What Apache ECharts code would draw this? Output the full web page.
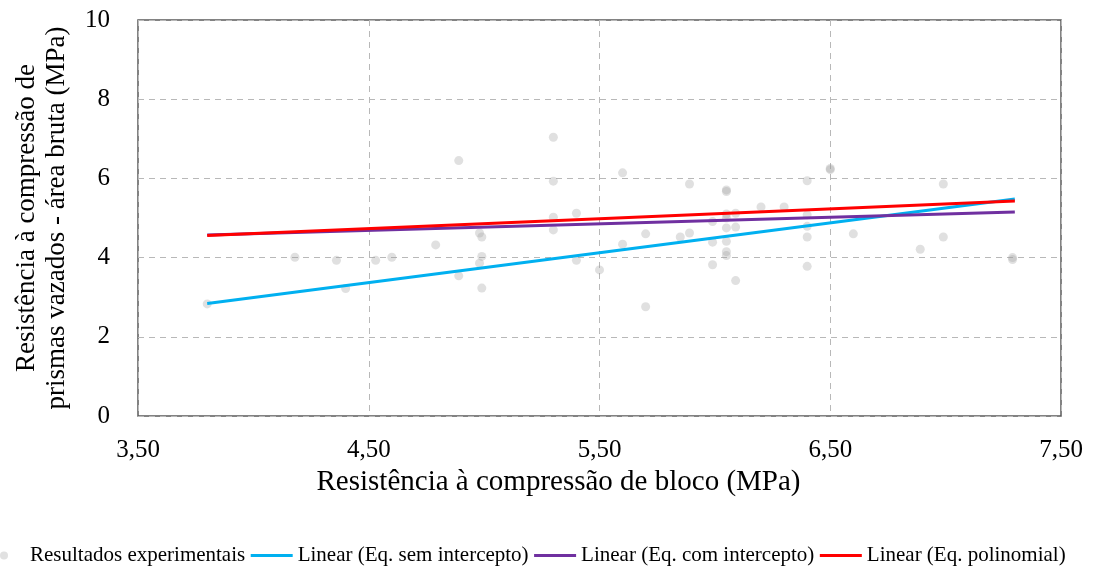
<!DOCTYPE html>
<html>
<head>
<meta charset="utf-8">
<script src="https://cdn.jsdelivr.net/npm/echarts@6/dist/echarts.min.js"></script>
<style>
  html, body { margin: 0; padding: 0; background: #fff; }
  #chart { width: 1094px; height: 567px; }
</style>
</head>
<body>
<div id="chart"></div>
<script>
// Resistência do bloco (MPa) for each ensaio
const blockStrength = [
  3.80, 4.18, 4.36, 4.40, 4.53, 4.60, 4.79, 4.89, 4.89, 4.98,
  4.99, 4.99, 4.98, 4.99, 5.30, 5.30, 5.30, 5.30, 5.40, 5.40,
  5.50, 5.60, 5.60, 5.70, 5.70, 5.85, 5.89, 5.89, 5.99, 5.99,
  5.99, 6.05, 6.05, 6.05, 6.05, 6.05, 6.05, 6.05, 6.05, 6.09,
  6.09, 6.09, 6.20, 6.30, 6.40, 6.40, 6.40, 6.40, 6.40, 6.50,
  6.50, 6.60, 6.89, 6.99, 6.99, 7.29, 7.29
];
// Resistência do prisma vazado - área bruta (MPa), same order
const prismStrength = [
  2.83, 4.01, 3.93, 3.22, 3.93, 4.01, 4.32, 6.45, 3.54, 4.62,
  4.52, 4.03, 3.86, 3.23, 7.04, 5.93, 5.02, 4.70, 5.12, 3.93,
  3.69, 6.14, 4.34, 4.60, 2.76, 4.52, 5.86, 4.62, 4.91, 4.39,
  3.82, 5.71, 5.67, 5.10, 5.00, 4.75, 4.41, 4.15, 4.05, 5.12,
  4.77, 3.42, 5.28, 5.28, 5.94, 5.08, 4.79, 4.52, 3.78, 6.25,
  6.22, 4.60, 4.21, 5.86, 4.52, 4.00, 3.95
];

// Fitted lines, evaluated at the ends of the block-strength range
const fitX = [3.80, 7.30];
const fitSemIntercepto = [2.84, 5.48];
const fitComIntercepto = [4.57, 5.15];
const fitPolinomial = [4.56, 5.43];

const seriesNames = [
  'Resultados experimentais',
  'Linear (Eq. sem intercepto)',
  'Linear (Eq. com intercepto)',
  'Linear (Eq. polinomial)'
];
const xTickLabels = ['3,50', '4,50', '5,50', '6,50', '7,50'];
const yTickLabels = ['0', '2', '4', '6', '8', '10'];

const xTitle = 'Resistência à compressão de bloco (MPa)';
const yTitle = 'Resistência à compressão de\nprismas vazados - área bruta (MPa)';

const serif = '"Liberation Serif", "DejaVu Serif", serif';

const pairs = (xs, ys) => xs.map((x, i) => [x, ys[i]]);

// legend entry for a fitted line: keep the stroke, hide the marker
const lineEntry = (name, color) => ({
  name,
  itemStyle: { opacity: 0 },
  lineStyle: { color, width: 3 }
});

const chart = echarts.init(document.getElementById('chart'), null, { renderer: 'canvas' });

chart.setOption({
  animation: false,
  backgroundColor: '#ffffff',
  textStyle: { fontFamily: serif, color: '#000' },
  grid: {
    left: 138, right: 33, top: 20, bottom: 151,
    show: true, borderColor: '#595959', borderWidth: 1.5,
    backgroundColor: 'transparent'
  },
  legend: {
    left: 0, top: 545, width: 1094, padding: 0,
    itemWidth: 42, itemHeight: 8, itemGap: 4,
    textStyle: { fontFamily: serif, fontSize: 21, color: '#000' },
    data: [
      { name: seriesNames[0], icon: 'circle', itemStyle: { color: '#d9d9d9' } },
      lineEntry(seriesNames[1], '#00b0f0'),
      lineEntry(seriesNames[2], '#7030a0'),
      lineEntry(seriesNames[3], '#ff0000')
    ]
  },
  xAxis: {
    type: 'value', min: 3.5, max: 7.5, interval: 1,
    name: xTitle, nameLocation: 'middle', nameGap: 37,
    nameTextStyle: { fontFamily: serif, fontSize: 29, color: '#000', padding: [0, 82, 0, 0] },
    axisLine: { show: false },
    axisTick: { show: false },
    axisLabel: {
      fontFamily: serif, fontSize: 25, color: '#000', margin: 22,
      formatter: (v) => xTickLabels[Math.round(v - 3.5)]
    },
    splitLine: { show: true, lineStyle: { color: '#b8b8b8', type: [6, 5], width: 1 } }
  },
  yAxis: {
    type: 'value', min: 0, max: 10, interval: 2,
    name: yTitle, nameLocation: 'middle', nameGap: 66, nameRotate: 90,
    nameTextStyle: { fontFamily: serif, fontSize: 27, color: '#000', lineHeight: 30 },
    axisLine: { show: false },
    axisTick: { show: false },
    axisLabel: {
      fontFamily: serif, fontSize: 25, color: '#000', margin: 28,
      formatter: (v) => yTickLabels[Math.round(v / 2)]
    },
    splitLine: { show: true, lineStyle: { color: '#b8b8b8', type: [6, 5], width: 1 } }
  },
  series: [
    {
      name: seriesNames[0], type: 'scatter',
      data: pairs(blockStrength, prismStrength),
      symbol: 'circle', symbolSize: 9,
      itemStyle: { color: 'rgba(160,160,160,0.4)' },
      z: 2
    },
    {
      name: seriesNames[1], type: 'line',
      data: pairs(fitX, fitSemIntercepto),
      symbol: 'none', lineStyle: { color: '#00b0f0', width: 3 },
      itemStyle: { color: '#00b0f0' }, z: 3
    },
    {
      name: seriesNames[2], type: 'line',
      data: pairs(fitX, fitComIntercepto),
      symbol: 'none', lineStyle: { color: '#7030a0', width: 3 },
      itemStyle: { color: '#7030a0' }, z: 3
    },
    {
      name: seriesNames[3], type: 'line',
      data: pairs(fitX, fitPolinomial),
      symbol: 'none', lineStyle: { color: '#ff0000', width: 3 },
      itemStyle: { color: '#ff0000' }, z: 3
    }
  ]
});
</script>
</body>
</html>
